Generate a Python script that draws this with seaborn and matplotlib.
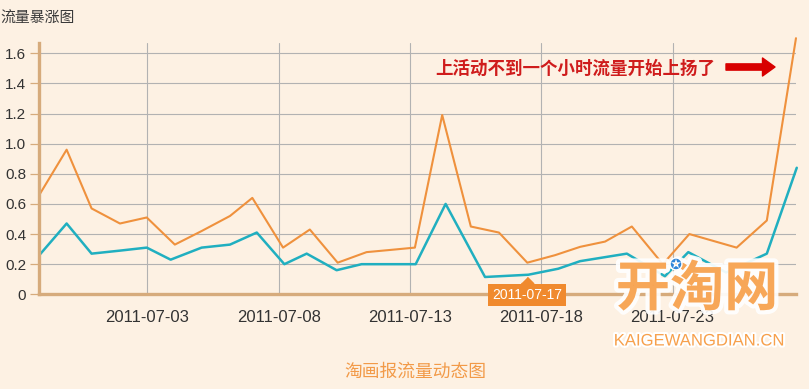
import pandas as pd
import seaborn as sns
import matplotlib.pyplot as plt
import matplotlib.dates as mdates
import matplotlib.patheffects as pe

# sample times, in days after 2011-07-03
base_date = pd.Timestamp("2011-07-03")
orange_days = [-4.11, -3.07, -2.12, -1.04, -0.02, 1.05, 2.07, 3.15, 4.00, 5.17,
               6.19, 7.25, 8.35, 9.28, 10.19, 11.23, 12.32, 13.39, 14.47, 15.53,
               16.48, 17.43, 18.45, 19.63, 20.64, 21.54, 22.44, 23.59, 24.70]
orange_vals = [0.66, 0.96, 0.57, 0.47, 0.51, 0.33, 0.42, 0.52, 0.64, 0.31,
               0.43, 0.21, 0.28, 0.295, 0.31, 1.19, 0.45, 0.41, 0.21, 0.26,
               0.315, 0.35, 0.45, 0.20, 0.40, 0.355, 0.31, 0.49, 1.70]
teal_days = [-4.11, -3.07, -2.12, -1.04, -0.02, 0.89, 2.07, 3.15, 4.17, 5.22,
             6.07, 7.21, 8.16, 10.22, 11.36, 12.86, 14.51, 15.65, 16.48, 18.26,
             19.71, 20.60, 22.04, 23.59, 24.73]
teal_vals = [0.26, 0.47, 0.27, 0.29, 0.31, 0.23, 0.31, 0.33, 0.41, 0.20,
             0.27, 0.16, 0.20, 0.20, 0.60, 0.115, 0.13, 0.17, 0.22, 0.27,
             0.12, 0.28, 0.145, 0.27, 0.84]

tick_dates = ["2011-07-03", "2011-07-08", "2011-07-13", "2011-07-18", "2011-07-23"]
y_ticks = [0, 0.2, 0.4, 0.6, 0.8, 1.0, 1.2, 1.4, 1.6]
y_labels = ["0", "0.2", "0.4", "0.6", "0.8", "1.0", "1.2", "1.4", "1.6"]

chart_title = "流量暴涨图"
footer_title = "淘画报流量动态图"
note_text = "上活动不到一个小时流量开始上扬了"
logo_text = "开淘网"
logo_url = "KAIGEWANGDIAN.CN"
tooltip_index = 18

bg = "#FDF1E3"
tan = "#D6AB7C"
orange = "#EF913D"
teal = "#20AFC0"
logo_orange = "#F7A04B"

sns.set_theme(style="white", rc={"axes.facecolor": bg, "figure.facecolor": bg})
plt.rcParams["font.family"] = ["Liberation Sans", "Noto Sans CJK SC", "DejaVu Sans"]

orange_dates = base_date + pd.to_timedelta(orange_days, unit="D")
teal_dates = base_date + pd.to_timedelta(teal_days, unit="D")

fig = plt.figure(figsize=(8.09, 3.89), dpi=100)
ax = fig.add_axes([0.0486, 0.2434, 0.9353, 0.6468])

sns.lineplot(x=teal_dates, y=teal_vals, ax=ax, color=teal, linewidth=1.8,
             clip_on=False, zorder=3)
sns.lineplot(x=orange_dates, y=orange_vals, ax=ax, color=orange, linewidth=1.5,
             clip_on=False, zorder=4)

ax.set_xlim(orange_dates[0], orange_dates[-1])
ax.set_ylim(0, 1.67)
ax.set_yticks(y_ticks)
ax.set_yticklabels(y_labels)
ax.set_xticks(pd.to_datetime(tick_dates))
ax.xaxis.set_major_formatter(mdates.DateFormatter("%Y-%m-%d"))

ax.grid(True, color="#B2B2B2", linewidth=0.8)
ax.set_axisbelow(True)
for side in ["top", "right"]:
    ax.spines[side].set_visible(False)
for side in ["left", "bottom"]:
    ax.spines[side].set_color(tan)
    ax.spines[side].set_linewidth(2.4)
    ax.spines[side].set_zorder(5)

ax.tick_params(axis="y", left=True, length=6.5, width=0.9, color=tan, pad=3,
               labelsize=11, labelcolor="#333333")
ax.tick_params(axis="x", bottom=False, length=0, pad=11, labelsize=12,
               labelcolor="#333333")
ax.set_xlabel("")
ax.set_ylabel("")

# titles
fig.text(0.0, 1 - 19 / 389, chart_title, ha="left", va="center", fontsize=10.7,
         color="#3A3A3A", family=["Noto Sans CJK SC"])
fig.text(415 / 809, 1 - 372 / 389, footer_title, ha="center", va="center",
         fontsize=12.8, color="#F29A48", family=["Noto Sans CJK SC"])

# annotation with red arrow
fig.text(575 / 809, 1 - 69 / 389, note_text, ha="center", va="center",
         fontsize=12.6, fontweight="bold", color="#CF1C1C",
         family=["Noto Sans CJK SC"])
ax.annotate("", xy=(775 / 809, 1 - 67 / 389), xytext=(726 / 809, 1 - 67 / 389),
            xycoords="figure fraction", textcoords="figure fraction",
            arrowprops=dict(arrowstyle="simple,head_length=0.9,head_width=1.3,tail_width=0.45",
                            color="#D80000", shrinkA=0, shrinkB=0,
                            mutation_scale=10))

# hover tooltip on the 2011-07-17 point
tip_x = orange_dates[tooltip_index]
ax.plot([tip_x], [0.057], transform=ax.get_xaxis_transform(), clip_on=False,
        marker=[(-1, -0.5), (1, -0.5), (0, 0.5)], markersize=9, color="#F08A2E",
        linestyle="none", zorder=6)
ax.annotate(tip_x.strftime("%Y-%m-%d"), xy=(tip_x, -0.003),
            xycoords=("data", "axes fraction"), ha="center", va="center",
            fontsize=10, color="white", annotation_clip=False, zorder=7,
            bbox=dict(boxstyle="square,pad=0.3", fc="#F08A2E", ec="none"))

# watermark
fig.text(697 / 809, 1 - 290 / 389, logo_text, ha="center", va="center",
         fontsize=39, fontweight="heavy", color=logo_orange, alpha=0.92,
         family=["Noto Sans CJK SC"],
         path_effects=[pe.withStroke(linewidth=6, foreground="white")])
fig.text(676 / 809, 1 - 265 / 389, "\u272a", ha="center", va="center",
         fontsize=10, color="#2F86D8", family=["DejaVu Sans"],
         path_effects=[pe.withStroke(linewidth=2, foreground="white")])
fig.text(699 / 809, 1 - 341 / 389, logo_url, ha="center", va="center",
         fontsize=12, color=logo_orange,
         path_effects=[pe.withStroke(linewidth=3, foreground="white")])

fig.savefig("out.png", dpi=100, facecolor=bg)
plt.close(fig)
